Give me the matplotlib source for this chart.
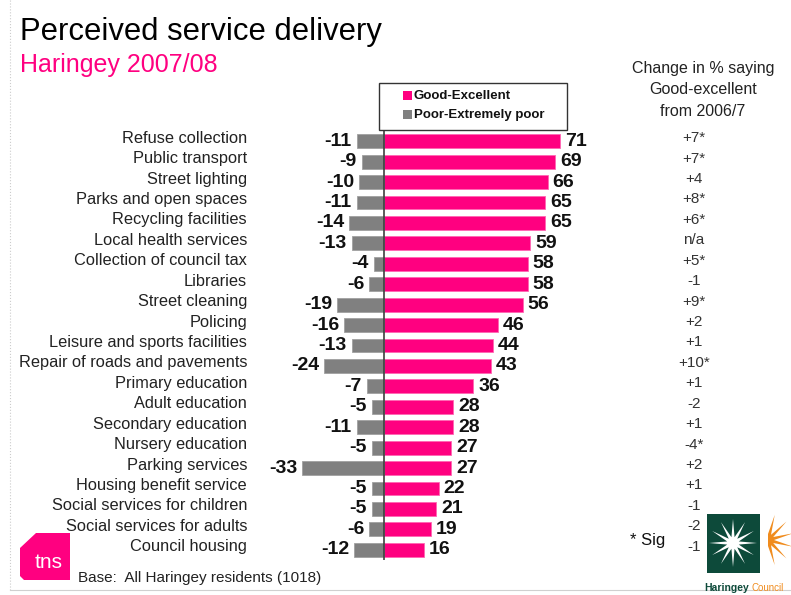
import matplotlib.pyplot as plt
from matplotlib.patches import Rectangle, Polygon
from matplotlib.transforms import blended_transform_factory
import numpy as np

plt.rcParams['font.family'] = ['Liberation Sans', 'DejaVu Sans']

services = ['Refuse collection', 'Public transport', 'Street lighting',
            'Parks and open spaces', 'Recycling facilities', 'Local health services',
            'Collection of council tax', 'Libraries', 'Street cleaning', 'Policing',
            'Leisure and sports facilities', 'Repair of roads and pavements',
            'Primary education', 'Adult education', 'Secondary education',
            'Nursery education', 'Parking services', 'Housing benefit service',
            'Social services for children', 'Social services for adults',
            'Council housing']
good = [71, 69, 66, 65, 65, 59, 58, 58, 56, 46, 44, 43, 36, 28, 28, 27, 27, 22, 21, 19, 16]
poor = [-11, -9, -10, -11, -14, -13, -4, -6, -19, -16, -13, -24, -7, -5, -11, -5, -33,
        -5, -5, -6, -12]
change = ['+7*', '+7*', '+4', '+8*', '+6*', 'n/a', '+5*', '-1', '+9*', '+2', '+1', '+10*',
          '+1', '-2', '+1', '-4*', '+2', '+1', '-1', '-2', '-1']

PINK = '#FF0080'
GREY = '#808080'
W, H = 791, 595

fig = plt.figure(figsize=(W / 100, H / 100), dpi=100)


def fx(x):
    return x / W


def fy(y):
    return 1 - y / H


# main bar axes: zero line sits at x=384px, ~2.48 px per point
ax = fig.add_axes([fx(290), fy(560), fx(600) - fx(290), fy(131) - fy(560)])
rows = np.arange(len(services))
ax.barh(rows, good, height=0.68, color=PINK, edgecolor='#ff66b3', linewidth=0.6)
ax.barh(rows, poor, height=0.68, color=GREY, edgecolor='#a0a0a0', linewidth=0.6)
ax.axvline(0, color='#404040', lw=1.2)
ax.set_xlim(-37.9, 87.1)
ax.set_ylim(20.5, -0.5)
ax.axis('off')

for i in rows:
    ax.text(good[i] + 2.0, i, str(good[i]), ha='left', va='center',
            fontsize=14, fontweight='bold', color='#111111')
    ax.text(poor[i] - 2.0, i, str(poor[i]), ha='right', va='center',
            fontsize=14, fontweight='bold', color='#111111', clip_on=False)

tr = blended_transform_factory(fig.transFigure, ax.transData)
for i in rows:
    ax.text(fx(247), i - 0.15, services[i], transform=tr, ha='right', va='center',
            fontsize=11.8, color='#222222')
    ax.text(fx(694), i - 0.15, change[i], transform=tr, ha='center', va='center',
            fontsize=11, color='#333333')

# titles
fig.text(fx(20), fy(32), 'Perceived service delivery', fontsize=22.3, color='black',
         ha='left', va='center')
fig.text(fx(20), fy(65), 'Haringey 2007/08', fontsize=18, color=PINK,
         ha='left', va='center')

# right-hand header
for txt, y in [('Change in % saying', 68), ('Good-excellent', 90), ('from 2006/7', 111)]:
    fig.text(fx(703), fy(y), txt, fontsize=11.5, color='#222222', ha='center', va='center')

# legend box
fig.patches.append(Rectangle((fx(379), fy(130)), fx(567) - fx(379), fy(83) - fy(130),
                             transform=fig.transFigure, facecolor='white',
                             edgecolor='#333333', lw=1))
for label, col, y in [('Good-Excellent', PINK, 96), ('Poor-Extremely poor', GREY, 115)]:
    fig.patches.append(Rectangle((fx(403), fy(y + 4)), fx(9), fy(0) - fy(9),
                                 transform=fig.transFigure, facecolor=col, edgecolor='none'))
    fig.text(fx(414), fy(y), label, fontsize=9.5, fontweight='bold', color='#111111',
             ha='left', va='center')

# frame lines of the slide
fig.add_artist(plt.Line2D([fx(10), fx(10)], [fy(0), fy(590)], transform=fig.transFigure,
                          color='#cccccc', lw=0.8, ls=':'))
fig.add_artist(plt.Line2D([fx(10), fx(791)], [fy(590), fy(590)], transform=fig.transFigure,
                          color='#d0d0d0', lw=0.8))

# base note
fig.text(fx(78), fy(578), 'Base:  All Haringey residents (1018)', fontsize=11,
         color='#222222', ha='left', va='center')

# tns logo
tns = [(20, 548), (36, 533), (70, 533), (70, 580), (24, 580), (20, 576)]
fig.patches.append(Polygon([(fx(x), fy(y)) for x, y in tns], closed=True,
                           transform=fig.transFigure, facecolor=PINK, edgecolor='none'))
fig.text(fx(35), fy(563), 'tns', fontsize=15, color='white', ha='left', va='center')

# * Sig
fig.text(fx(630), fy(540), '* Sig', fontsize=12, color='#111111', ha='left', va='center')

# Haringey council logo
fig.patches.append(Rectangle((fx(707), fy(573)), fx(53), fy(0) - fy(59),
                             transform=fig.transFigure, facecolor='#0d4a3a', edgecolor='none'))
cx, cy = 733, 543
ang = np.linspace(0, 2 * np.pi, 25)[:-1]
rad = np.where(np.arange(24) % 2 == 0, 24, 6)
star = [(fx(cx + r * np.cos(a)), fy(cy + r * np.sin(a))) for r, a in zip(rad, ang)]
fig.patches.append(Polygon(star, closed=True, transform=fig.transFigure,
                           facecolor='white', edgecolor='none'))
ocx, ocy = 768, 540
ang2 = np.linspace(-np.pi / 2, np.pi / 2, 13)
rad2 = np.where(np.arange(13) % 2 == 0, 6, 26)
ostar = [(fx(ocx), fy(ocy - 6))] + \
        [(fx(ocx + r * np.cos(a)), fy(ocy + r * np.sin(a))) for r, a in zip(rad2, ang2)] + \
        [(fx(ocx), fy(ocy + 6))]
fig.patches.append(Polygon(ostar, closed=True, transform=fig.transFigure,
                           facecolor='#f08c1e', edgecolor='none'))
fig.text(fx(704), fy(588), 'Haringey', fontsize=7.5, fontweight='bold', color='#0d4a3a',
         ha='left', va='center')
fig.text(fx(751), fy(588), 'Council', fontsize=7, color='#f08c1e', ha='left', va='center')

fig.savefig('out.png', dpi=100)
